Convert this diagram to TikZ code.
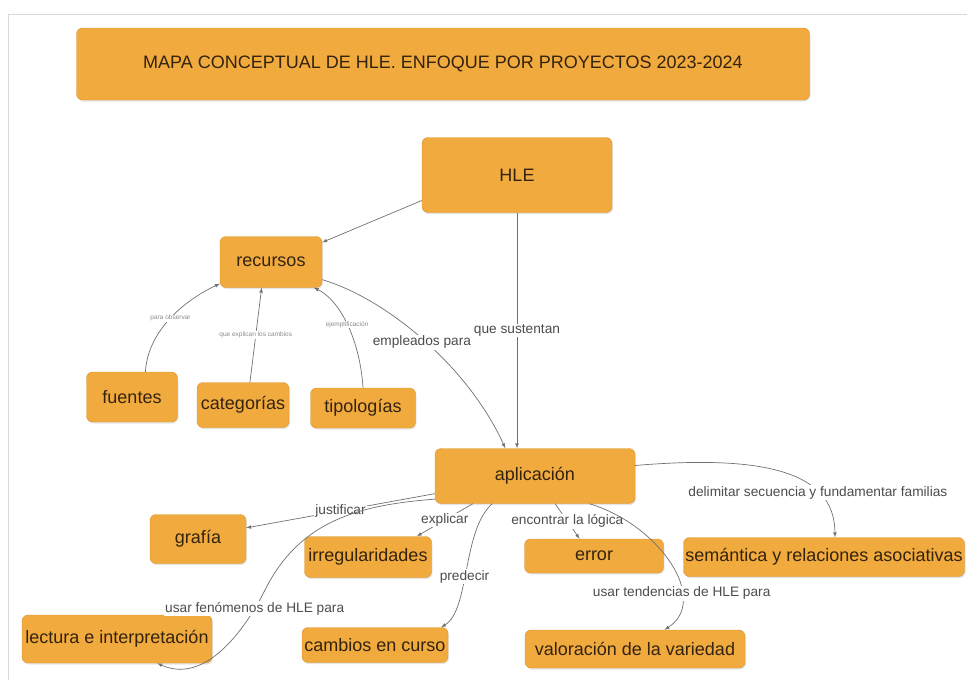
\documentclass[tikz,border=0pt]{standalone}
\usepackage{fontspec}
\setmainfont{Liberation Sans}
\usetikzlibrary{calc, positioning, arrows, shadows}
\definecolor{conceptfill}{HTML}{F1AA3E}
\definecolor{conceptline}{HTML}{D8952F}
\definecolor{concepttext}{HTML}{33230F}
\definecolor{linkgray}{HTML}{707070}

\begin{document}
\begin{tikzpicture}[
    x=1pt, y=1pt,
    concept/.style={draw=conceptline, fill=conceptfill, rounded corners=6pt, text=concepttext, inner sep=0pt, font=\fontsize{18}{21}\selectfont, drop shadow={shadow xshift=1pt, shadow yshift=-1.5pt, opacity=0.2}},
    link/.style={->, >=latex, draw=linkgray, line width=0.7pt},
    lbl/.style={fill=white, inner sep=1pt, text=black!70, font=\fontsize{13.7}{16}\selectfont},
    tinylbl/.style={fill=white, inner sep=0.5pt, text=black!45, font=\fontsize{6.5}{7.5}\selectfont}
]
\useasboundingbox (0,0) rectangle (967,-680);
\draw[black!15] (8,-680) -- (8,-14) -- (967,-14);

\node[concept, minimum width=733pt, minimum height=72pt] (title) at (443,-64) {MAPA CONCEPTUAL DE HLE. ENFOQUE POR PROYECTOS 2023-2024};
\node[concept, minimum width=190pt, minimum height=75pt] (hle) at (517,-175) {HLE};
\node[concept, minimum width=102pt, minimum height=51pt] (rec) at (271,-262) {recursos};
\node[concept, minimum width=91pt, minimum height=50pt] (fue) at (132,-397) {fuentes};
\node[concept, minimum width=92pt, minimum height=45pt] (cat) at (243,-405) {categorías};
\node[concept, minimum width=105pt, minimum height=40pt] (tip) at (363,-408) {tipologías};
\node[concept, minimum width=200pt, minimum height=55pt] (apl) at (535,-476) {aplicación};
\node[concept, minimum width=96pt, minimum height=49pt] (gra) at (198,-539) {grafía};
\node[concept, minimum width=127pt, minimum height=41pt] (irr) at (368,-557) {irregularidades};
\node[concept, minimum width=139pt, minimum height=34pt] (err) at (594,-556) {error};
\node[concept, minimum width=281pt, minimum height=39pt] (sem) at (824,-557) {semántica y relaciones asociativas};
\node[concept, minimum width=190pt, minimum height=48pt] (lec) at (117,-639) {lectura e interpretación};
\node[concept, minimum width=146pt, minimum height=35pt] (cam) at (375,-645) {cambios en curso};
\node[concept, minimum width=220pt, minimum height=38pt] (val) at (635,-649) {valoración de la variedad};

% HLE
\draw[link] (hle.195) -- (rec.21);
\draw[link] (hle.south) -- (hle.south |- apl.north) node[lbl, midway] {que sustentan};
\draw[link] (rec.-19) .. controls (390,-300) and (470,-370) .. (apl.137) node[lbl, pos=0.5, xshift=-4pt] {empleados para};

% recursos
\draw[link] (fue.62) .. controls (148,-330) and (185,-300) .. (rec.203) node[tinylbl, pos=0.5] {para observar};
\draw[link] (cat.73) -- (rec.250) node[tinylbl, midway] {que explican los cambios};
\draw[link] (tip.north) .. controls (360,-340) and (340,-300) .. (rec.-31) node[tinylbl, pos=0.5] {ejemplificación};

% aplicacion
\draw[link] (apl.190) -- (gra.13) node[lbl, midway] {justificar};
\draw[link] (apl.193) .. controls (360,-505) and (300,-520) .. (265,-590)
    .. controls (245,-630) and (205,-685) .. (lec.-31) node[lbl, pos=0.15] {usar fenómenos de HLE para};
\draw[link] (apl.204) -- (irr.23) node[lbl, midway] {explicar};
\draw[link] (apl.213) .. controls (462,-530) and (470,-610) .. (cam.15) node[lbl, pos=0.55] {predecir};
\draw[link] (apl.-54) -- (err.130) node[lbl, midway] {encontrar la lógica};
\draw[link] (apl.-27) .. controls (660,-525) and (710,-600) .. (val.33) node[lbl, pos=0.7] {usar tendencias de HLE para};
\draw[link] (apl.6) .. controls (760,-455) and (835,-470) .. (sem.61) node[lbl, pos=0.72] {delimitar secuencia y fundamentar familias};
\end{tikzpicture}
\end{document}
